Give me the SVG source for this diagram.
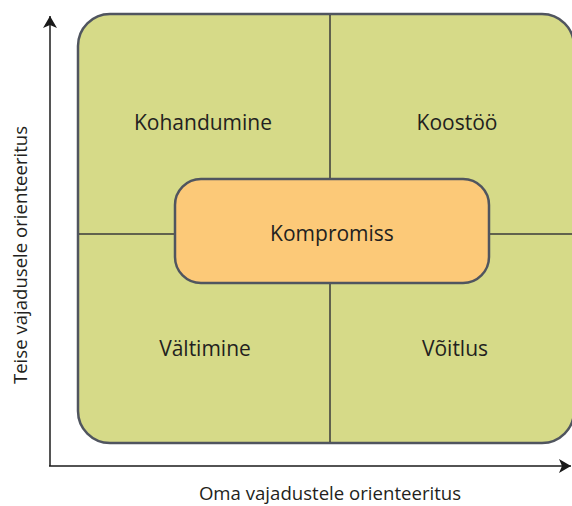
<svg xmlns="http://www.w3.org/2000/svg" width="572" height="506" viewBox="0 0 572 506">
<defs>
<style>
.lbl{font-family:"Open Sans","Liberation Sans",sans-serif;font-size:21px;fill:#231f20;text-anchor:middle;dominant-baseline:central}
.ax{font-family:"Open Sans","Liberation Sans",sans-serif;font-size:18.6px;fill:#231f20;text-anchor:middle}
.div{stroke:#3a3a3a;stroke-width:1.5;fill:none}
</style>
<marker id="ah" markerWidth="12" markerHeight="14" refX="12" refY="7" orient="auto" markerUnits="userSpaceOnUse">
<path d="M0,0 L12,7 L0,14 L3,7 Z" fill="#1a1a1a"/>
</marker>
</defs>
<rect width="572" height="506" fill="#fff"/>
<g id="grid">
<rect x="78" y="14" width="496" height="429" rx="32" fill="#d6da88" stroke="#50555f" stroke-width="2.5"/>
</g>
<g id="connectors">
<line class="div" x1="330" y1="15" x2="330" y2="442"/>
<line class="div" x1="79" y1="234" x2="572" y2="234"/>
<line x1="50" y1="466" x2="50" y2="16" stroke="#555" stroke-width="2" marker-end="url(#ah)"/>
<line x1="49" y1="466" x2="571" y2="466" stroke="#1a1a1a" stroke-width="1.5" marker-end="url(#ah)"/>
</g>
<g id="kohandumine"><text class="lbl" x="203" y="122">Kohandumine</text></g>
<g id="koostoo"><text class="lbl" x="457" y="122">Koostöö</text></g>
<g id="valtimine"><text class="lbl" x="205" y="348">Vältimine</text></g>
<g id="voitlus"><text class="lbl" x="455" y="348">Võitlus</text></g>
<g id="kompromiss">
<rect x="175" y="179" width="314" height="104" rx="26" fill="#fcc978" stroke="#50555f" stroke-width="2.5"/>
<text class="lbl" x="332" y="233">Kompromiss</text>
</g>
<g id="axis-labels">
<text class="ax" x="330" y="500">Oma vajadustele orienteeritus</text>
<text class="ax" transform="translate(27,255) rotate(-90)">Teise vajadusele orienteeritus</text>
</g>
</svg>
